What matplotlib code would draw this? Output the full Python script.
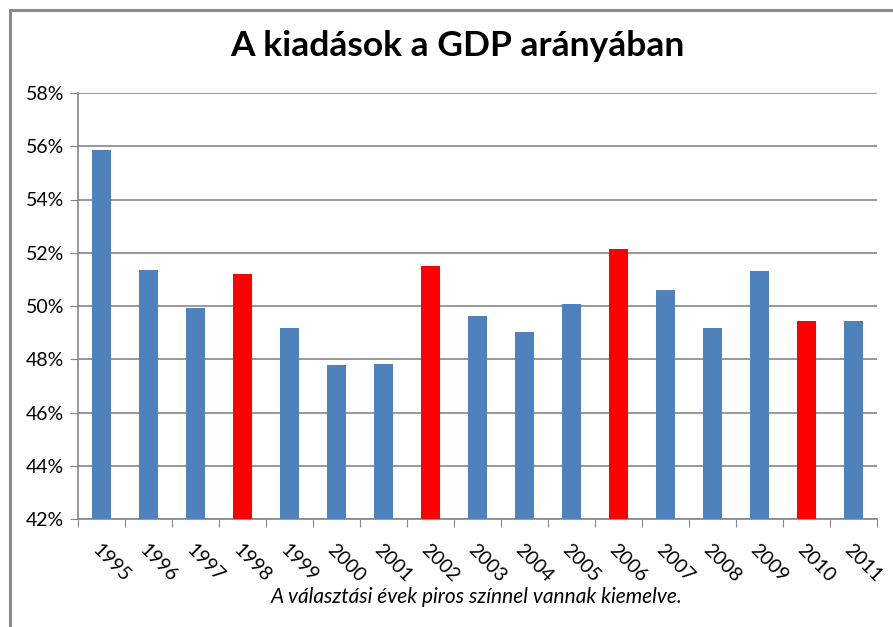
import matplotlib
matplotlib.use("Agg")
import matplotlib.pyplot as plt
from matplotlib.patches import Rectangle

plt.rcParams['font.family'] = ['Lato', 'DejaVu Sans']

years = ["1995", "1996", "1997", "1998", "1999", "2000", "2001", "2002", "2003",
         "2004", "2005", "2006", "2007", "2008", "2009", "2010", "2011"]
values = [55.86, 51.35, 49.92, 51.2, 49.17, 47.78, 47.82, 51.5, 49.62,
          49.02, 50.07, 52.14, 50.6, 49.17, 51.3, 49.44, 49.44]
election_years = ["1998", "2002", "2006", "2010"]
ytick_values = [42, 44, 46, 48, 50, 52, 54, 56, 58]

blue = "#4F81BD"
red = "#FF0000"

fig = plt.figure(figsize=(8.93, 6.27), dpi=100)
# outer chart frame
fig.patches.append(Rectangle((10/893, -0.05), 1.0, 1.05 - 10/627,
                             transform=fig.transFigure, fill=False,
                             edgecolor="#8C8C8C", linewidth=2.2))

ax = fig.add_axes([78/893, 1 - 519/627, (877-78)/893, (519-93)/627])
x = list(range(len(years)))
colors = [red if y in election_years else blue for y in years]
ax.bar(x, [v - 42 for v in values], bottom=42, width=0.41, color=colors, zorder=3)

ax.set_xlim(-0.5, len(years) - 0.5)
ax.set_ylim(42, 58)
ax.set_yticks(ytick_values)
ax.set_yticklabels([f"{v}%" for v in ytick_values], fontsize=14)
ax.yaxis.grid(True, color="#868686", linewidth=1.2, zorder=0)
ax.tick_params(axis='y', length=6, color="#868686", pad=4)

ax.set_xticks([i - 0.5 for i in range(len(years) + 1)], minor=False)
ax.set_xticklabels([])
ax.set_xticks(x, minor=True)
ax.set_xticklabels(years, minor=True, rotation=-45, ha='left', va='top',
                   rotation_mode='anchor', fontsize=14)
ax.tick_params(axis='x', which='major', length=6, color="#868686")
ax.tick_params(axis='x', which='minor', length=0, pad=16)

for side in ['top', 'right']:
    ax.spines[side].set_visible(False)
ax.spines['left'].set_color("#868686")
ax.spines['bottom'].set_color("#868686")
ax.spines['left'].set_linewidth(1.2)
ax.spines['bottom'].set_linewidth(1.2)

fig.text(457/893, 1 - 46/627, "A kiadások a GDP arányában", ha='center', va='center',
         fontsize=25.5, fontweight='bold')
fig.text(477/893, 1 - 597/627, "A választási évek piros színnel vannak kiemelve.",
         ha='center', va='center', fontsize=15, style='italic')

fig.savefig("out.png", dpi=100)
